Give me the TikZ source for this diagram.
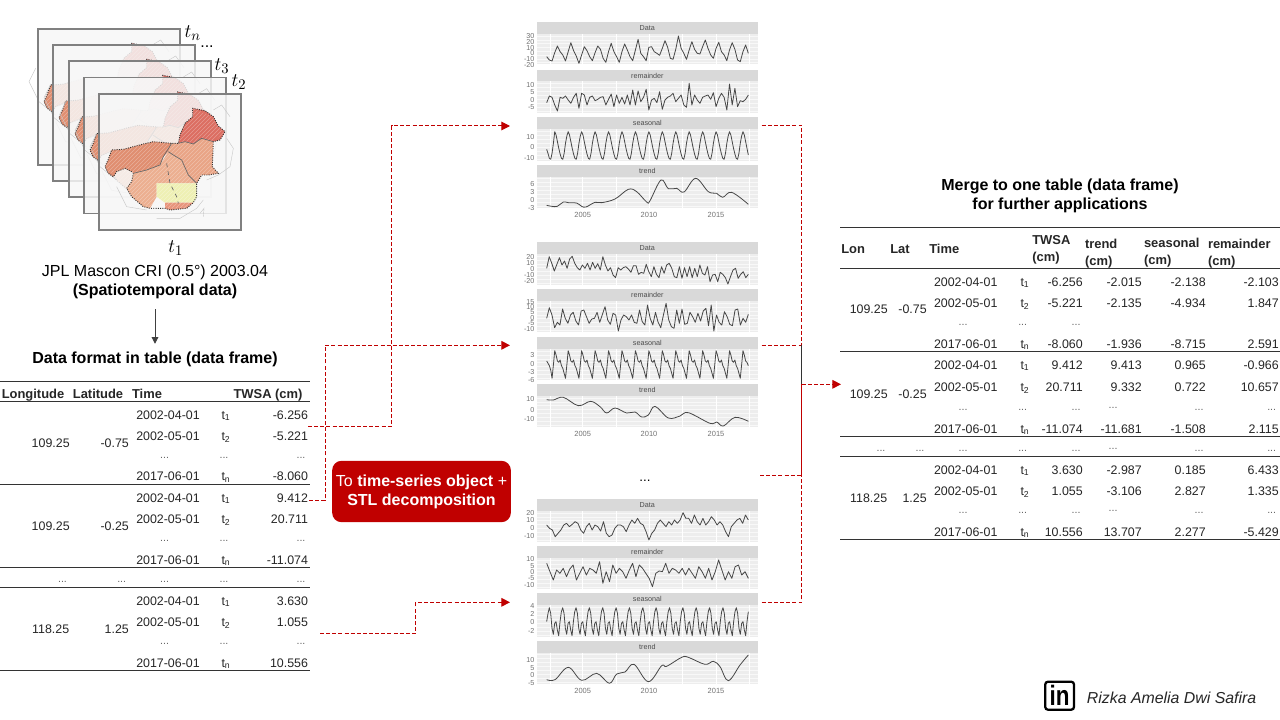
\documentclass[tikz,border=0pt]{standalone}
\usepackage{fontspec}
\setmainfont{Liberation Sans}
\usetikzlibrary{arrows.meta,patterns}
\definecolor{cred}{HTML}{C00000}
\definecolor{ctxt}{HTML}{262626}
\definecolor{cstrip}{HTML}{D9D9D9}
\definecolor{cplot}{HTML}{EDEDED}
\definecolor{mW}{HTML}{E08E70}
\definecolor{mNE}{HTML}{DC6E62}
\definecolor{mE}{HTML}{E9A486}
\definecolor{mSC}{HTML}{ECAF90}
\definecolor{mY}{HTML}{EEF0B4}
\definecolor{mS}{HTML}{E8957C}
\newcounter{nid}
\newcommand\T[4]{\stepcounter{nid}\node[#1] (n\arabic{nid}) at ({#2},{#3}) {#4};}
\newcommand\tsb[1]{t\textsubscript{#1}}
\tikzset{
  base/.style={inner sep=0pt,outer sep=0pt,text height=.72em,text depth=0pt,text=ctxt},
  tb/.style={base,font=\fontsize{9.3pt}{11pt}\selectfont},
  tbr/.style={tb,anchor=east},
  tbl/.style={tb,anchor=west},
  th/.style={base,font=\fontsize{9.7pt}{11pt}\selectfont\bfseries},
  thl/.style={th,anchor=west},
  dotsn/.style={inner sep=0pt,outer sep=0pt,text height=0pt,text depth=0pt,text=black!60,font=\fontsize{8pt}{9pt}\selectfont},
  title/.style={inner sep=0pt,align=center,text=black,font=\fontsize{12pt}{14.3pt}\selectfont},
  redflow/.style={draw=cred,line width=.75pt,dashed,dash pattern=on 3pt off 1.6pt},
  redarrow/.style={redflow,-{Triangle[length=6.5pt,width=6.5pt,fill=cred]}},
  hrule/.style={draw=black!80,line width=.75pt},
  frameb/.style={draw=black!50,line width=1.2pt,fill=white!97!black,fill opacity=.84},
  ticklab/.style={inner sep=0pt,anchor=east,text=black!55,font=\fontsize{5.4pt}{6pt}\selectfont},
  xlab/.style={inner sep=0pt,text=black!55,font=\fontsize{5.6pt}{6pt}\selectfont},
  striplab/.style={inner sep=0pt,text=black!70,font=\fontsize{5.4pt}{6pt}\selectfont},
  serline/.style={draw=black!72,line width=.6pt,line join=round},
  tmath/.style={inner sep=0pt,text=black,font=\fontsize{15pt}{16pt}\selectfont},
  coast/.style={draw=black!22,line width=.3pt},
  bord/.style={draw=black!80,line width=.7pt,densely dotted},
  prov/.style={draw=black!60,line width=.5pt}
}
% map of one time step, in zoom units
\newcommand\mapshape{
  \path[coast] (620,540)--(655,525)--(690,500)--(700,445)--(680,415);
  \path[coast] (470,655)--(540,655)--(590,625)--(610,600);
  \path[coast] (350,560)--(380,620)--(440,630);
  \path[coast] (640,330)--(665,315)--(690,350);
  \path[coast] (600,640)--(612,625)--(610,650);
  \path[coast] (290,400)--(270,440)--(300,500)--(350,540);
  \path[fill=mW] (315,500)--(325,478)--(335,450)--(370,448)--(430,432)--(460,425)--(515,430)--(505,455)--(490,470)--(480,495)--(440,510)--(400,520)--(395,515)--(375,505)--(350,515)--(340,530)--(325,520)--cycle;
  \path[fill=mNE] (578,325)--(615,332)--(640,350)--(655,378)--(675,395)--(660,420)--(640,425)--(605,415)--(580,432)--(555,425)--(535,430)--(540,405)--(555,370)--(578,350)--cycle;
  \path[fill=mE] (515,430)--(535,430)--(555,425)--(580,432)--(605,415)--(640,425)--(637,500)--(655,520)--(625,525)--(605,525)--(590,550)--(565,525)--(545,480)--(520,465)--(505,455)--cycle;
  \path[fill=mSC] (480,495)--(505,455)--(520,465)--(545,480)--(565,525)--(590,550)--(470,550)--(470,590)--(450,625)--(430,620)--(395,590)--(380,565)--(395,545)--(400,520)--(440,510)--cycle;
  \path[fill=mY] (470,550)--(590,550)--(590,590)--(580,608)--(495,608)--(470,590)--cycle;
  \path[fill=mS] (495,608)--(580,608)--(560,625)--(510,630)--(495,625)--cycle;
}
\newcommand\mapedge{
  \begin{scope}[opacity=.3]
  \path[pattern=north east lines,pattern color=white] (315,500)--(335,450)--(460,425)--(535,430)--(555,370)--(578,325)--(640,350)--(675,395)--(640,425)--(637,500)--(655,520)--(605,525)--(590,590)--(560,625)--(495,625)--(450,625)--(395,590)--(380,565)--(400,520)--(350,515)--(325,520)--cycle;
  \end{scope}
  \path[bord] (395,515)--(375,505)--(350,515)--(340,530)--(325,520)--(315,500)--(325,478)--(335,450)--(370,448)--(430,432)--(460,425)--(515,430)--(535,430)--(540,405)--(555,370)--(578,350)--(578,325)--(615,332)--(640,350)--(655,378)--(675,395)--(660,420)--(640,425)--(637,500)--(655,520)--(625,525)--(605,525)--(590,550)--(590,590)--(580,608)--(560,625)--(510,630)--(495,625)--(470,625)--(450,625)--(430,620)--(395,590)--(380,565)--(395,545)--(400,520);
  \path[prov] (400,520)--(440,510)--(480,495)--(490,470)--(515,430);
  \path[prov] (505,455)--(520,465)--(545,480)--(565,525)--(590,550);
  \path[prov] (535,430)--(555,425)--(580,432)--(605,415)--(640,425);
  \path[prov,dashed] (500,490)--(510,550)--(530,590)--(535,610);
}
\newcommand\mlayer[2]{
  \begin{scope}[shift={(#1,#2)}]
    \path[frameb] (297,282) rectangle (723,690);
    \mapshape
    \mapedge
    \path[draw=black!50,line width=1.2pt] (297,282) rectangle (723,690);
  \end{scope}
}
% panel: top, header bottom, plot bottom, name, ticks
\newcommand\panel[5]{
  \path[fill=cstrip] (110,#1) rectangle (773,#2);
  \path[fill=cplot] (110,#2) rectangle (773,#3);
  \foreach \g in {0,...,7}{\path[draw=white!60!cplot,line width=.2pt] (110,{#2+(#3-#2)*(\g+.5)/8}) -- (773,{#2+(#3-#2)*(\g+.5)/8});}
  \foreach \g in {150,248,348,447,548,648,748}{\path[draw=white,line width=.3pt] (\g,#2) -- (\g,#3);}
  \T{striplab}{442}{(#1+#2)/2}{#4}
  \foreach \v/\y in {#5}{\T{ticklab}{104}{\y}{\v}}
}
\newcommand\ser[2]{
  \foreach \v [count=\n] in {#2}{\xdef\Ncount{\n}}
  \pgfmathsetmacro\dxx{605/\Ncount}
  \draw[serline] (140,#1) \foreach \v [count=\n] in {#2}{ -- ({140+\n*\dxx},\v) };
}
\newcommand\serM[2]{\edef\tmpser{\noexpand\ser{#1}{#2}}\tmpser}
\newcommand\smoothser[1]{\draw[serline] plot[smooth,tension=.6] coordinates {#1};}
\newcommand\xlabs[1]{\T{xlab}{248}{#1}{2005}\T{xlab}{447}{#1}{2010}\T{xlab}{648}{#1}{2015}}
% left table block
\newcommand\lblock[9]{
  \T{tb}{168}{#1}{2002-04-01}\T{tb}{226}{#1}{\tsb{1}}\T{tbr}{308}{#1}{#6}
  \T{tb}{168}{#1+21}{2002-05-01}\T{tb}{226}{#1+21}{\tsb{2}}\T{tbr}{308}{#1+21}{#7}
  \T{dotsn}{164.6}{#2}{...}\T{dotsn}{224}{#2}{...}\T{dotsn}{301}{#2}{...}
  \T{tb}{168}{#3}{2017-06-01}\T{tb}{226}{#3}{\tsb{n}}\T{tbr}{308}{#3}{#8}
  \T{tb}{50.7}{#1+28}{#4}\T{tbr}{128.8}{#1+28}{#5}
  \path[hrule] (0,#9) -- (310,#9);
}
\newcommand\rrow[7]{
  \T{tb}{965.7}{#1}{#2}\T{tb}{1025}{#1}{\tsb{#3}}\T{tbr}{1082.7}{#1}{#4}\T{tbr}{1141.7}{#1}{#5}\T{tbr}{1205.7}{#1}{#6}\T{tbr}{1278.7}{#1}{#7}
}
\newcommand\rdots[1]{\T{dotsn}{963}{#1}{...}\T{dotsn}{1022.7}{#1}{...}\T{dotsn}{1076}{#1}{...}}
\newcommand\rdotsb[1]{\rdots{#1}\T{dotsn}{1113}{#1-2}{...}\T{dotsn}{1199}{#1}{...}\T{dotsn}{1271.7}{#1}{...}}
\begin{document}
\begin{tikzpicture}[x=0.75pt,y=-0.75pt]
\useasboundingbox (0,0) rectangle (1280,720);
\path[fill=white] (0,0) rectangle (1280,720);

% map stack
\begin{scope}[x=0.25pt,y=-0.25pt]
  \mlayer{-183}{-195}
  \mlayer{-138}{-147}
  \mlayer{-90}{-99}
  \mlayer{-45}{-49}
  \mlayer{0}{0}
\end{scope}
\T{tmath}{192.7}{33}{$t_n$}
\T{inner sep=0pt,text=black,font=\fontsize{12pt}{13pt}\selectfont}{207}{47}{...}
\T{tmath}{222}{66}{$t_3$}
\T{tmath}{239}{82}{$t_2$}
\T{tmath}{175.7}{248}{$t_1$}
\node[title] (src) at (155,281.5) {JPL Mascon CRI (0.5°) 2003.04\\\textbf{(Spatiotemporal data)}};
\node[title,font=\fontsize{12pt}{14.3pt}\selectfont\bfseries] (fmt) at (155,359.5) {Data format in table (data frame)};
\draw[draw=black!75,line width=.7pt,shorten <=8pt,shorten >=6pt,-{Triangle[length=5pt,width=5pt,fill=black!75]}] (src.south) -- (fmt.north);

% left table
\path[hrule] (0,381.3) -- (310,381.3);
\path[hrule] (0,401.7) -- (310,401.7);
\T{th}{33}{393.3}{Longitude}
\T{th}{98}{393.3}{Latitude}
\T{th}{147}{393.3}{Time}
\T{th}{268}{393.3}{TWSA (cm)}
\lblock{414.3}{458.3}{476}{109.25}{-0.75}{-6.256}{-5.221}{-8.060}{484.3}
\lblock{497.3}{541}{559.3}{109.25}{-0.25}{9.412}{20.711}{-11.074}{567.3}
\foreach \x in {62.5,121.7,164.6,224,301}{\T{dotsn}{\x}{582.3}{...}}
\path[hrule] (0,587.3) -- (310,587.3);
\lblock{600.3}{644.3}{662.3}{118.25}{1.25}{3.630}{1.055}{10.556}{670.3}

% red box
\node[fill=cred,rounded corners=7pt,minimum width=134pt,minimum height=46pt,inner sep=0pt,text=white,align=center,font=\fontsize{12pt}{14.4pt}\selectfont] (stl) at (421.5,491.5) {To \textbf{time-series object} +\\\textbf{STL decomposition}};

% charts
\begin{scope}[shift={(500,10)},x=0.25pt,y=-0.25pt]
  \panel{35}{72}{163}{Data}{30/78,20/95,10/113,0/130,-10/147,-20/165}
  \panel{180}{213}{308}{remainder}{10/225,5/247,0/270,-5/292}
  \panel{322}{358}{452}{seasonal}{10/380,0/411,-10/443}
  \panel{464}{500}{594}{trend}{6/523,3/546,0/570,-3/594}
  \xlabs{615}
  \ser{140}{150,153,128,108,125,135,153,125,98,122,138,160,135,110,122,140,152,128,108,118,145,157,125,100,125,140,157,125,102,120,140,152,120,88,130,140,152,112,110,125,130,136,115,92,112,145,148,118,78,115,130,148,120,95,118,130,132,110,90,115,135,145,115,97,125,135,152,120,98,118,150,155,125,105,130}
  \ser{278}{258,262,285,303,262,265,258,270,280,262,250,295,250,255,285,262,258,272,268,262,260,285,268,252,290,255,280,262,282,255,285,240,285,243,275,262,238,300,270,265,278,245,298,270,262,258,250,275,265,255,285,292,220,285,255,270,280,262,258,255,268,248,290,265,250,262,300,222,285,235,290,272,275,268,255}
  \def\sA{365,375,395,415,432,445,448,430,400,378}
  \serM{418}{430,445,448,430,400,\sA,\sA,\sA,\sA,\sA,\sA,\sA,\sA,\sA,\sA,\sA,\sA,\sA,\sA,365,375,395,415,435}
  \smoothser{(140,586)(155,589)(172,589)(190,576)(205,578)(230,579)(245,589)(258,591)(285,577)(305,578)(345,567)(385,538)(410,545)(440,576)(450,572)(483,510)(505,536)(530,535)(552,546)(587,505)(625,545)(650,550)(668,562)(695,547)(745,583)}
\end{scope}
\begin{scope}[shift={(500,235)},x=0.25pt,y=-0.25pt]
  \panel{20}{57}{150}{Data}{20/65,10/83,0/101,-10/119,-20/138}
  \panel{163}{198}{292}{remainder}{15/201,10/217,5/232,0/250,-5/265,-10/283}
  \panel{305}{342}{435}{seasonal}{3/360,0/386,-3/410,-6/435}
  \panel{447}{483}{575}{trend}{10/493,0/524,-10/553}
  \xlabs{597}
  \ser{100}{65,85,108,88,68,90,78,100,72,64,85,98,105,90,100,85,105,82,100,86,105,65,90,108,98,120,128,98,105,98,95,102,112,92,92,118,112,115,88,110,125,95,118,128,95,115,90,85,100,125,128,95,130,98,125,95,128,100,125,90,115,120,95,140,120,118,140,112,118,128,147,125,105,100,130,118,110,128,118}
  \ser{250}{218,240,278,262,270,222,250,265,240,232,258,270,228,225,245,265,252,250,232,262,238,215,255,268,235,240,288,255,240,245,255,240,262,265,225,260,270,210,250,270,232,262,278,240,205,255,275,280,225,265,222,268,265,232,245,262,235,258,228,220,272,210,288,240,262,270,230,245,268,272,225,222,270,250,262,238}
  \def\sB{347,360,378,382,375,392,400,415,430,390}
  \serM{378}{385,392,405,430,390,\sB,\sB,\sB,\sB,\sB,\sB,\sB,\sB,\sB,\sB,\sB,\sB,\sB,\sB,347,360,378,382,392}
  \smoothser{(140,494)(160,495)(190,487)(235,512)(272,499)(300,515)(320,534)(345,519)(380,534)(405,531)(425,546)(445,540)(465,514)(505,549)(540,543)(565,533)(630,565)(650,561)(670,573)(705,547)(745,559)}
\end{scope}
\begin{scope}[shift={(500,465)},x=0.25pt,y=-0.25pt]
  \panel{101}{138}{230}{Data}{20/143,10/166,0/190,-10/213}
  \panel{244}{279}{372}{remainder}{10/283,5/302,0/321,-5/340,-10/360}
  \panel{385}{421}{515}{seasonal}{4/424,2/448,0/472,-2/497}
  \panel{527}{563}{657}{trend}{10/585,5/608,0/631,-5/653}
  \xlabs{678}
  \ser{180}{190,195,215,205,195,180,175,185,178,170,175,195,205,185,175,195,180,185,198,170,205,215,210,190,180,180,185,200,180,165,175,160,175,180,200,225,205,195,175,165,175,185,170,180,165,175,165,143,160,160,175,150,170,180,160,180,170,155,165,180,170,180,200,215,185,175,165,160,175,150,165}
  \ser{295}{320,345,315,325,310,335,312,300,345,325,305,330,310,315,325,290,355,320,350,300,325,310,320,340,315,295,335,300,310,325,340,365,325,318,320,295,325,310,315,325,310,330,310,325,340,305,320,340,310,345,320,285,315,345,320,340,305,300,330,320,340}
  \def\sC{428,445,490,508,475,470,495,512,470,440}
  \serM{470}{445,\sC,\sC,\sC,\sC,\sC,\sC,\sC,\sC,\sC,\sC,\sC,\sC,\sC,\sC,\sC}
  \smoothser{(140,644)(165,644)(205,607)(245,646)(290,625)(328,655)(350,627)(375,621)(402,598)(445,650)(485,602)(500,604)(545,577)(565,577)(615,598)(640,589)(660,605)(685,647)(720,600)(745,570)}
\end{scope}
\T{inner sep=0pt,text height=0pt,text depth=0pt,text=black,font=\fontsize{10pt}{11pt}\selectfont}{645}{481}{...}

% right table
\node[title,font=\fontsize{12pt}{14.3pt}\selectfont\bfseries] (mrg) at (1060,196) {Merge to one table (data frame)\\for further applications};
\path[hrule] (840,228) -- (1280,228);
\path[hrule] (840,268.3) -- (1280,268.3);
\T{thl}{841.3}{248.3}{Lon}
\T{thl}{890.3}{248.3}{Lat}
\T{thl}{929.3}{248.3}{Time}
\T{thl}{1032.3}{240}{TWSA}
\T{thl}{1032.3}{256.7}{(cm)}
\T{thl}{1085}{244}{trend}
\T{thl}{1085}{260.7}{(cm)}
\T{thl}{1144}{242.3}{seasonal}
\T{thl}{1144}{259.3}{(cm)}
\T{thl}{1208}{244}{remainder}
\T{thl}{1208}{260.7}{(cm)}

\T{tb}{868.7}{309}{109.25}\T{tbr}{926.7}{309}{-0.75}
\rrow{281.3}{2002-04-01}{1}{-6.256}{-2.015}{-2.138}{-2.103}
\rrow{302.3}{2002-05-01}{2}{-5.221}{-2.135}{-4.934}{1.847}
\rdots{325}
\rrow{343.3}{2017-06-01}{n}{-8.060}{-1.936}{-8.715}{2.591}
\path[hrule] (840,351.3) -- (1280,351.3);

\T{tb}{868.7}{393.3}{109.25}\T{tbr}{926.7}{393.3}{-0.25}
\rrow{364.3}{2002-04-01}{1}{9.412}{9.413}{0.965}{-0.966}
\rrow{386.3}{2002-05-01}{2}{20.711}{9.332}{0.722}{10.657}
\rdotsb{410}
\rrow{428.3}{2017-06-01}{n}{-11.074}{-11.681}{-1.508}{2.115}
\path[hrule] (840,436) -- (1280,436);

\T{dotsn}{881}{451.7}{...}\T{dotsn}{920}{451.7}{...}
\rdotsb{451.7}
\path[hrule] (840,456) -- (1280,456);

\T{tb}{868.7}{497.3}{118.25}\T{tbr}{926.7}{497.3}{1.25}
\rrow{469.3}{2002-04-01}{1}{3.630}{-2.987}{0.185}{6.433}
\rrow{490.3}{2002-05-01}{2}{1.055}{-3.106}{2.827}{1.335}
\rdotsb{513}
\rrow{531.3}{2017-06-01}{n}{10.556}{13.707}{2.277}{-5.429}
\path[hrule] (840,539) -- (1280,539);

% connector ends
\coordinate (rowA) at (308,426.3);
\coordinate (rowB) at (309,500.7);
\coordinate (rowC) at (320,633.3);
\coordinate (chartA) at (510,126);
\coordinate (chartB) at (510,345.3);
\coordinate (chartC) at (510,602.3);
\coordinate (seasA) at (761.7,125.3);
\coordinate (seasB) at (761.7,345.3);
\coordinate (gapC) at (760,475);
\coordinate (seasC) at (761.7,602.3);
\coordinate (bus) at (801.7,384.3);
\coordinate (merge) at (841,384.3);

\draw[redarrow] (rowA) -- ++(83.5,0) |- (chartA);
\draw[redarrow] (rowB) -- ++(16,0) |- (chartB);
\draw[redarrow] (rowC) -- ++(95.8,0) |- (chartC);
\draw[redflow] (seasA) -| (bus);
\draw[redflow] (seasB) -- (seasB -| bus);
\draw[draw=black!80,line width=.6pt] (seasB -| bus) -- (bus);
\draw[redflow] (gapC) -| (bus);
\draw[redflow] (seasC) -| (bus);
\draw[redarrow] (bus) -- (merge);

% author
\node[draw=black,line width=1.7pt,rounded corners=2pt,fill=white,minimum width=21.5pt,minimum height=21pt,inner sep=0pt,font=\fontsize{21pt}{21pt}\selectfont\bfseries] (logo) at (1059.6,695.7) {\scalebox{.8}[1]{in}};
\node[inner sep=0pt,anchor=west,text=ctxt,font=\fontsize{11.9pt}{13pt}\selectfont\itshape] (author) at (1086.7,698) {Rizka Amelia Dwi Safira};
\end{tikzpicture}
\end{document}
